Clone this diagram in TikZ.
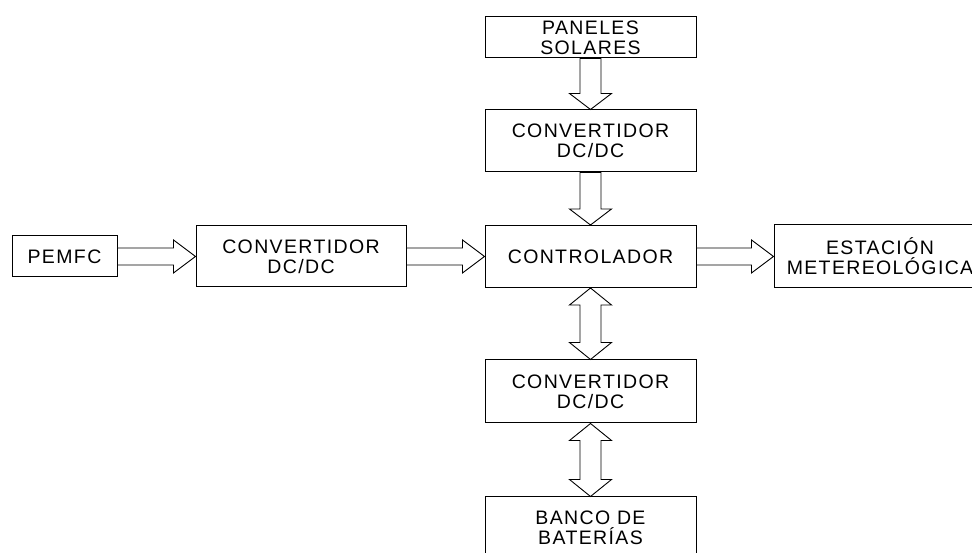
\documentclass[tikz,border=0pt]{standalone}
\usepackage{fontspec}
\usepackage{tikz}
\usetikzlibrary{calc}
\newfontfamily\arialtxt[LetterSpace=7]{Liberation Sans}

\tikzset{
  bloque/.style={draw=black, line width=1pt, fill=white, inner sep=0pt,
    minimum width=211pt, minimum height=62pt, align=center,
    font=\arialtxt\fontsize{19.5}{20}\selectfont},
  flecha/.style={draw=black, line width=0.9pt, fill=white, line join=miter}
}

% flecha horizontal hueca
\newcommand{\flechaH}[2]{%
  \draw[flecha] ($(#1.east)+(0,8.5)$) -- ($(#2.west)+(-22,8.5)$) -- ($(#2.west)+(-22,16.5)$)
    -- (#2.west) -- ($(#2.west)+(-22,-16.5)$) -- ($(#2.west)+(-22,-8.5)$) -- ($(#1.east)+(0,-8.5)$) -- cycle;}
% flecha vertical hueca (hacia abajo)
\newcommand{\flechaV}[2]{%
  \draw[flecha] ($(#1.south)+(-10.5,0)$) -- ($(#2.north)+(-10.5,16)$) -- ($(#2.north)+(-21,16)$)
    -- (#2.north) -- ($(#2.north)+(21,16)$) -- ($(#2.north)+(10.5,16)$) -- ($(#1.south)+(10.5,0)$) -- cycle;}
% flecha vertical doble
\newcommand{\flechaD}[2]{%
  \draw[flecha] (#1.south) -- ($(#1.south)+(21,-17)$) -- ($(#1.south)+(10.5,-17)$)
    -- ($(#2.north)+(10.5,17)$) -- ($(#2.north)+(21,17)$) -- (#2.north) -- ($(#2.north)+(-21,17)$)
    -- ($(#2.north)+(-10.5,17)$) -- ($(#1.south)+(-10.5,-17)$) -- ($(#1.south)+(-21,-17)$) -- cycle;}

\begin{document}
\begin{tikzpicture}[x=1pt, y=1pt]
\useasboundingbox (0,0) rectangle (972,553);
\clip (0,0) rectangle (972,553);

% Bloques
\node[bloque, minimum height=41pt] (paneles) at (590.5,515.5) {PANELES\\SOLARES};
\node[bloque] (convSup) at (590.5,412) {CONVERTIDOR\\DC/DC};
\node[bloque] (control) at (590.5,296.5) {CONTROLADOR};
\node[bloque, minimum height=63pt] (convInf) at (590.5,161.5) {CONVERTIDOR\\DC/DC};
\node[bloque] (baterias) at (590.5,25) {BANCO DE\\BATERÍAS};
\node[bloque, minimum width=105pt, minimum height=41pt] (pemfc) at (64.5,296.5) {PEMFC};
\node[bloque, minimum width=210pt, minimum height=61pt] (convIzq) at (301,296.5) {CONVERTIDOR\\DC/DC};
\node[bloque, minimum width=212pt, minimum height=63pt] (estacion) at (880,296.5) {ESTACIÓN\\METEREOLÓGICA};

% Flechas
\flechaV{paneles}{convSup}
\flechaV{convSup}{control}
\flechaH{pemfc}{convIzq}
\flechaH{convIzq}{control}
\flechaH{control}{estacion}
\flechaD{control}{convInf}
\flechaD{convInf}{baterias}
\end{tikzpicture}
\end{document}
